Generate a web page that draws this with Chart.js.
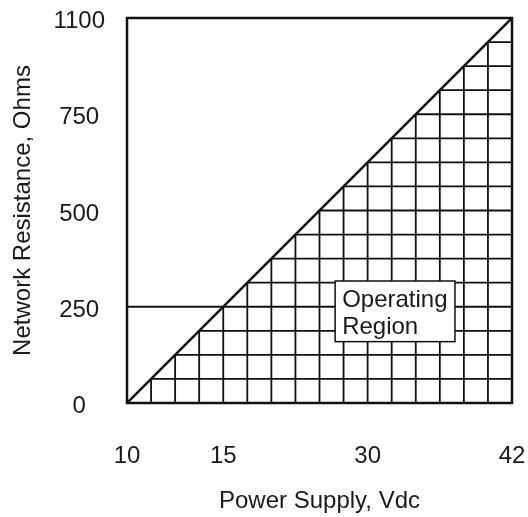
<!DOCTYPE html>
<html>
<head>
<meta charset="utf-8">
<script src="https://cdn.jsdelivr.net/npm/chart.js@4/dist/chart.umd.min.js"></script>
<style>
  html, body { margin: 0; padding: 0; background: #fff; }
  #wrap { width: 528px; height: 517px; }
</style>
</head>
<body>
<div id="wrap"><canvas id="chart"></canvas></div>
<script>
// axis ticks as printed on the chart (the axes are schematic, not linear)
const supplyTicks = [10, 15, 30, 42];
const resistanceTicks = [0, 250, 500, 750, 1100];
// where each printed tick sits, in grid cells from the origin
const supplyCells = [0, 4, 10, 16];
const resistanceCells = [0, 4, 8, 12, 16];

// boundary of the operating region
const limitSupply = [10, 42];
const limitResistance = [0, 1100];
// minimum-resistance line
const minSupply = [10, 15];
const minResistance = [250, 250];

const regionLabel = ['Operating', 'Region'];
const FONT = 'Liberation Sans, Arial, sans-serif';
const FS = 24;
const Y_LABEL_DROP = 0.15; // y labels sit a little below their tick in the original

// piecewise linear lookup between the printed ticks
function toCells(v, ticks, cells) {
  for (let i = 1; i < ticks.length; i++) {
    if (v <= ticks[i] || i === ticks.length - 1) {
      const t = (v - ticks[i - 1]) / (ticks[i] - ticks[i - 1]);
      return cells[i - 1] + t * (cells[i] - cells[i - 1]);
    }
  }
}
const sx = v => toCells(v, supplyTicks, supplyCells);
const sy = v => toCells(v, resistanceTicks, resistanceCells);
const pts = (xs, ys) => xs.map((x, i) => ({ x: sx(x), y: sy(ys[i]) }));

// no extra room for overhanging tick labels, the layout padding handles it
const noOverhang = s => {
  s.paddingLeft = 0; s.paddingRight = 0; s.paddingTop = 0; s.paddingBottom = 0;
};

const hatch = {
  id: 'hatch',
  beforeDatasetsDraw(chart) {
    const { ctx, scales: { x, y } } = chart;
    const n = supplyCells[supplyCells.length - 1];
    ctx.save();
    ctx.strokeStyle = '#111';
    ctx.lineWidth = 1.8;
    ctx.beginPath();
    for (let i = 1; i < n; i++) {
      // vertical: floor up to the boundary line, horizontal: boundary to right edge
      ctx.moveTo(x.getPixelForValue(i), y.getPixelForValue(0));
      ctx.lineTo(x.getPixelForValue(i), y.getPixelForValue(i));
      ctx.moveTo(x.getPixelForValue(i), y.getPixelForValue(i));
      ctx.lineTo(x.getPixelForValue(n), y.getPixelForValue(i));
    }
    ctx.stroke();
    ctx.restore();
  },
  afterDatasetsDraw(chart) {
    const { ctx, chartArea: a, scales: { x, y } } = chart;
    ctx.save();
    ctx.strokeStyle = '#111';
    ctx.lineWidth = 2.5;
    ctx.strokeRect(a.left, a.top, a.right - a.left, a.bottom - a.top);

    // label box
    const bx = x.getPixelForValue(8.65), by = y.getPixelForValue(5.07);
    const bw = x.getPixelForValue(13.63) - bx, bh = y.getPixelForValue(2.55) - by;
    ctx.fillStyle = '#fff';
    ctx.fillRect(bx, by, bw, bh);
    ctx.lineWidth = 1.5;
    ctx.strokeRect(bx, by, bw, bh);
    ctx.fillStyle = '#1a1a1a';
    ctx.font = FS + 'px ' + FONT;
    ctx.textAlign = 'left';
    ctx.textBaseline = 'middle';
    ctx.fillText(regionLabel[0], bx + 7, by + 19);
    ctx.fillText(regionLabel[1], bx + 7, by + 46);
    ctx.restore();
  }
};

new Chart(document.getElementById('chart'), {
  type: 'scatter',
  data: {
    datasets: [
      {
        data: pts(limitSupply, limitResistance),
        showLine: true,
        borderColor: '#111',
        borderWidth: 2.5,
        pointRadius: 0,
      },
      {
        data: pts(minSupply, minResistance),
        showLine: true,
        borderColor: '#111',
        borderWidth: 1.8,
        pointRadius: 0,
      },
    ],
  },
  options: {
    responsive: true,
    maintainAspectRatio: false,
    animation: false,
    layout: { padding: { top: 18, right: 16, left: 0, bottom: 0 } },
    plugins: { legend: { display: false }, tooltip: { enabled: false } },
    scales: {
      x: {
        type: 'linear',
        min: 0,
        max: supplyCells[supplyCells.length - 1],
        grid: { display: false },
        border: { display: false },
        afterFit: s => { s.height = 114; noOverhang(s); },
        afterBuildTicks: s => { s.ticks = supplyCells.map(v => ({ value: v })); },
        ticks: {
          padding: 31,
          color: '#1a1a1a',
          font: { family: FONT, size: FS },
          maxRotation: 0,
          callback: (v, i) => supplyTicks[i],
        },
        title: {
          display: true,
          text: 'Power Supply, Vdc',
          color: '#1a1a1a',
          font: { family: FONT, size: FS },
          padding: { top: 0, bottom: 1 },
        },
      },
      y: {
        type: 'linear',
        min: 0,
        max: resistanceCells[resistanceCells.length - 1],
        grid: { display: false },
        border: { display: false },
        afterFit: s => { s.width = 127; noOverhang(s); },
        afterBuildTicks: s => { s.ticks = resistanceCells.map(v => ({ value: v - Y_LABEL_DROP })); },
        ticks: {
          padding: 14,
          crossAlign: 'center',
          color: '#1a1a1a',
          font: { family: FONT, size: FS },
          callback: (v, i) => resistanceTicks[i],
        },
        title: {
          display: true,
          text: 'Network Resistance, Ohms',
          color: '#1a1a1a',
          font: { family: FONT, size: FS },
          padding: { top: 9, bottom: 0 },
        },
      },
    },
  },
  plugins: [hatch],
});
</script>
</body>
</html>
